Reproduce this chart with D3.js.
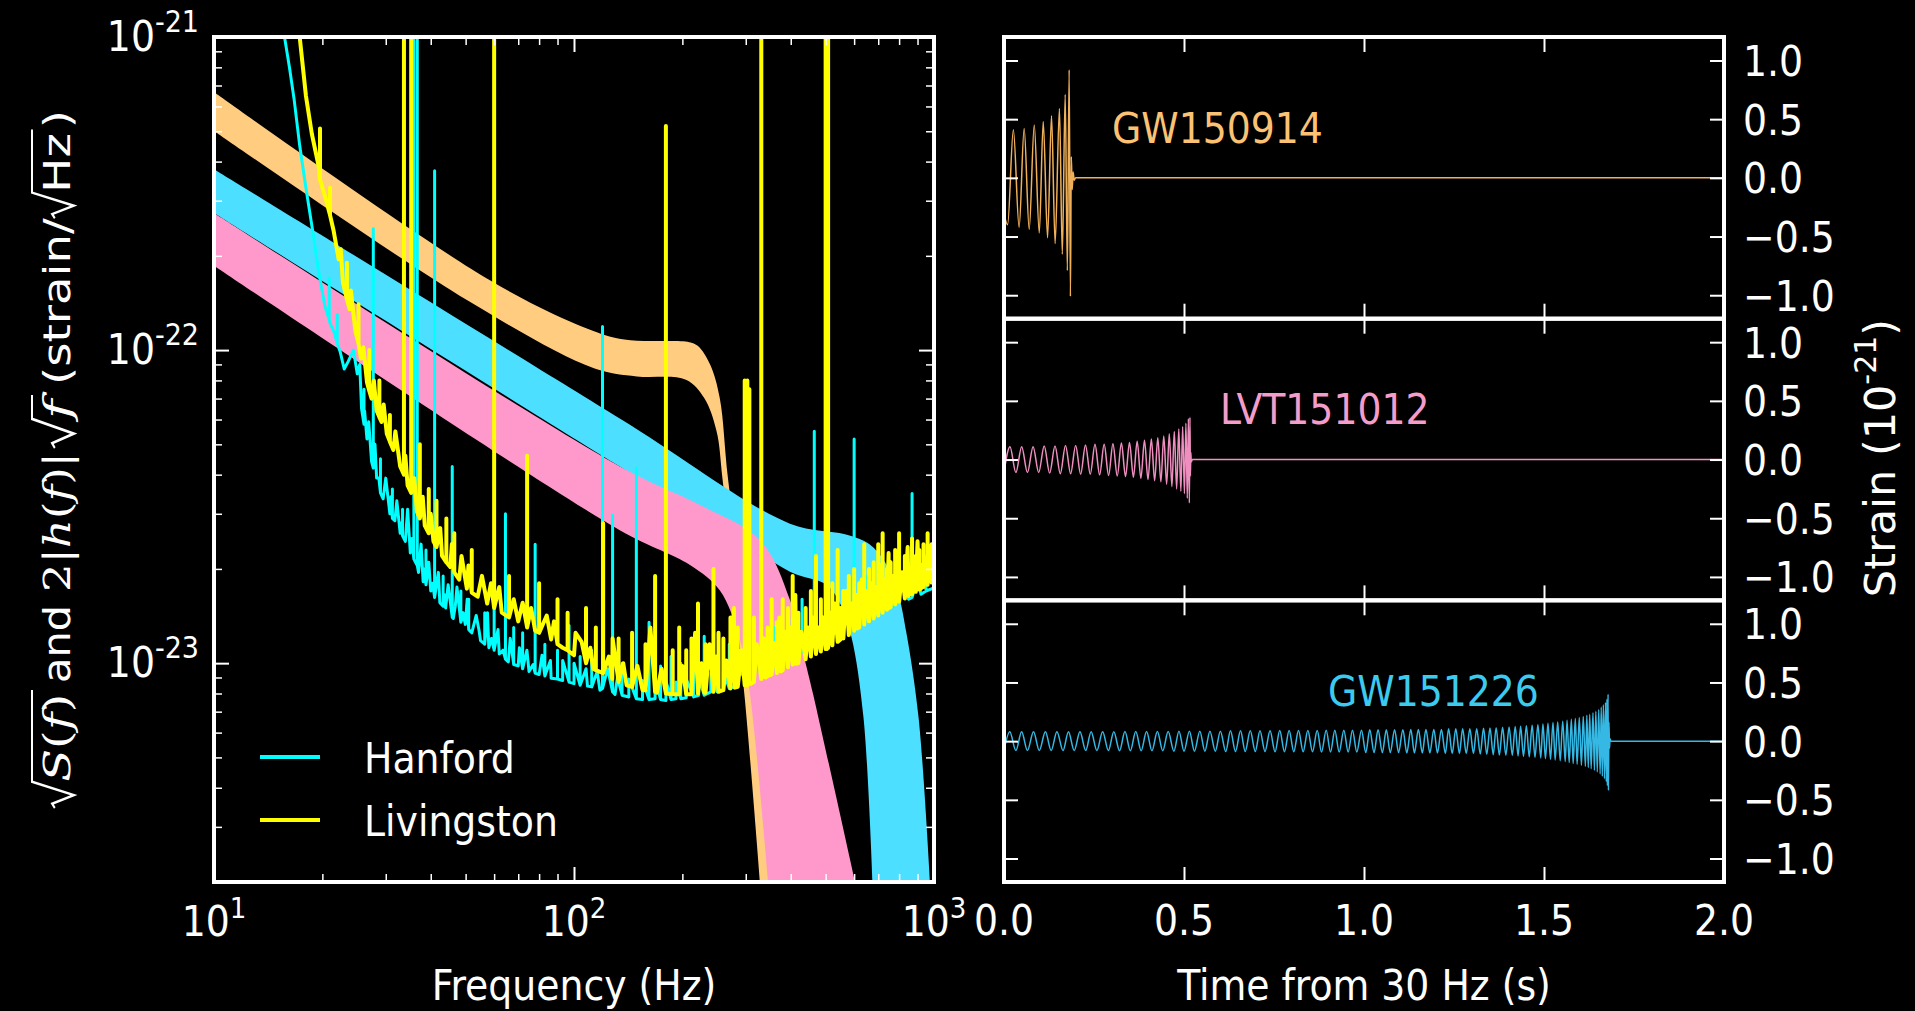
<!DOCTYPE html>
<html>
<head>
<meta charset="utf-8">
<script src="https://cdnjs.cloudflare.com/ajax/libs/d3/7.8.5/d3.min.js"></script>
<style>
  body { margin: 0; background: #000; }
  text { fill: #fff; font-family: "DejaVu Sans Condensed", "DejaVu Sans", sans-serif; }
</style>
</head>
<body>
<script>
// ---------------- data ----------------
// detector noise floors, [Hz, strain/rtHz]
var hanfordFloor = [
  [15.7,1.0e-21],[16.2,8.0e-22],[16.7,6.3e-22],[17.3,4.5e-22],[18.0,3.3e-22],[18.8,2.4e-22],[19.5,1.8e-22],
  [20.3,1.39e-22],[21.0,1.22e-22],[21.5,1.15e-22],[22.4,9.9e-23],[23.0,8.7e-23],[23.6,9.2e-23],[24.4,1.0e-22],
  [25.0,8.4e-23],[25.7,6.5e-23],[26.6,5.2e-23],[27.4,4.4e-23],[28.3,3.9e-23],[29.5,3.35e-23],[30.8,3.0e-23],
  [31.8,2.85e-23],[32.9,2.6e-23],[34.0,2.45e-23],[35.1,2.25e-23],[37.0,1.95e-23],[38.1,1.82e-23],[40.0,1.7e-23],
  [42.4,1.56e-23],[44.0,1.5e-23],[46.2,1.39e-23],[49.9,1.33e-23],[52,1.25e-23],[55,1.18e-23],[58,1.12e-23],
  [62,1.07e-23],[65.7,1.01e-23],[70,9.8e-24],[75,9.4e-24],[80,9.2e-24],[86.4,8.95e-24],[93,8.8e-24],[100,8.6e-24],
  [109,8.45e-24],[118,8.2e-24],[130,7.95e-24],[142,7.8e-24],[155,7.65e-24],[168,7.7e-24],[180,7.6e-24],
  [192,7.7e-24],[205,7.75e-24],[222,7.9e-24],[240,8.1e-24],[260,8.2e-24],[280,8.45e-24],[310,8.9e-24],
  [340,9.4e-24],[375,1.0e-23],[414,1.06e-23],[455,1.12e-23],[500,1.2e-23],[550,1.27e-23],[612,1.36e-23],
  [680,1.43e-23],[750,1.5e-23],[850,1.6e-23],[920,1.66e-23],[1000,1.74e-23]
];
// spectral lines, [Hz, floor, peak]
var hanfordLines = [
  [20.9,1.25e-22,1.7e-22],[22.0,1.05e-22,1.3e-22],[26.1,5.8e-23,7.5e-23],[27.7,4.2e-23,2.44e-22],[29.0,3.5e-23,4.5e-23],
  [31.3,2.9e-23,3.6e-23],[33.4,2.55e-23,3.1e-23],[35.9,2.15e-23,3e-21],[36.7,2.05e-23,3e-21],[38.8,1.78e-23,2.3e-23],
  [41.0,1.62e-23,3.74e-22],[43.3,1.52e-23,1.9e-23],[45.9,1.4e-23,4.25e-23],[48.5,1.35e-23,1.7e-23],[51,1.28e-23,1.6e-23],
  [56.5,1.15e-23,1.45e-23],[60,1.1e-23,2.0e-23],[64.5,1.03e-23,3.0e-23],[68,9.9e-24,1.3e-23],[72,9.6e-24,1.25e-23],
  [78,9.3e-24,2.4e-23],[83,9.1e-24,1.15e-23],[90,8.9e-24,1.1e-23],[96.9,8.7e-24,1.32e-23],[104,8.5e-24,1.05e-23],
  [112,8.4e-24,1.1e-23],[120,8.3e-24,1.19e-22],[128,8.1e-24,2.97e-23],[136,7.9e-24,1.0e-23],[149,7.7e-24,4.2e-23],
  [161.6,7.65e-24,1.35e-23],[174,7.65e-24,9.8e-24],[186,7.65e-24,1.05e-23],[198,7.7e-24,1.0e-23],[215,7.8e-24,1.1e-23],
  [230,7.9e-24,1.22e-23],[250,8.1e-24,1.05e-23],[270,8.3e-24,1.15e-23],[300,8.8e-24,1.5e-23],[331.9,9.2e-24,3e-21],
  [360,9.7e-24,1.3e-23],[395,1.03e-23,1.4e-23],[430,1.08e-23,1.6e-23],[465,1.14e-23,5.5e-23],[500,1.2e-23,3.0e-23],
  [540,1.26e-23,1.7e-23],[600,1.34e-23,5.2e-23],[650,1.4e-23,1.9e-23],[700,1.45e-23,2.0e-23],[780,1.53e-23,2.1e-23],
  [869,1.62e-23,3.48e-23],[950,1.7e-23,2.2e-23]
];
// jagged points on the floor, [Hz, value]
var hanfordTexture = [
  [25.4,9.0e-23],[26.2,6.4e-23],[26.9,5.9e-23],[28.0,5.0e-23],[28.7,3.9e-23],[30.0,3.9e-23],[31.0,3.4e-23],
  [32.2,3.3e-23],[33.0,2.8e-23],[34.5,3.1e-23],[35.5,2.5e-23],[37.6,2.4e-23],[38.4,2.0e-23],[39.5,2.1e-23],
  [40.5,1.8e-23],[42.0,1.95e-23],[43.8,1.65e-23],[44.7,1.78e-23],[46.8,1.52e-23],[47.3,1.75e-23],[49.2,1.45e-23],
  [50.5,1.6e-23],[53.5,1.42e-23],[54.5,1.27e-23],[57.5,1.45e-23],[59,1.2e-23],[61.5,1.28e-23],[63.5,1.1e-23],
  [66.5,1.2e-23],[70.5,1.12e-23],[74,1.1e-23],[77,9.9e-24],[81.5,1.06e-23],[86,1.02e-23],[93,1.02e-23],
  [100,1.0e-23],[108,9.6e-24],[116,9.4e-24],[124,9.6e-24],[132,9.0e-24],[142,8.9e-24],[155,8.8e-24],
  [168,8.9e-24],[180,8.8e-24],[192,8.7e-24],[205,8.9e-24],[222,9.0e-24],[240,9.3e-24],[260,9.4e-24],
  [285,9.8e-24],[315,1.03e-23],[345,1.08e-23],[380,1.16e-23],[415,1.22e-23],[450,1.3e-23],[520,1.4e-23],
  [570,1.48e-23],[630,1.58e-23],[720,1.68e-23],[820,1.78e-23],[900,1.86e-23]
];
var livingstonFloor = [
  [17.3,1.0e-21],[17.7,7.8e-22],[18.0,6.5e-22],[18.7,4.9e-22],[19.5,3.9e-22],[20.5,3.0e-22],[21.5,2.4e-22],
  [22.2,1.95e-22],[22.8,1.65e-22],[23.8,1.35e-22],[24.7,1.15e-22],[25.6,9.4e-23],[26.6,7.9e-23],[27.4,7.0e-23],
  [28.3,6.4e-23],[29.2,5.9e-23],[30.2,5.4e-23],[31.5,4.8e-23],[32.9,4.25e-23],[34.5,3.7e-23],[36.6,3.05e-23],
  [38.5,2.75e-23],[40.7,2.45e-23],[43,2.2e-23],[45.3,2.03e-23],[48,1.85e-23],[50.4,1.73e-23],[54,1.63e-23],
  [57.4,1.55e-23],[63,1.45e-23],[70,1.36e-23],[78,1.27e-23],[86.4,1.19e-23],[93,1.12e-23],[100,1.06e-23],
  [113,9.6e-24],[127.7,8.9e-24],[140,8.5e-24],[155,8.2e-24],[170,8.05e-24],[189.6,7.95e-24],[210,7.95e-24],
  [230,8.05e-24],[255,8.15e-24],[279.7,8.35e-24],[310,8.6e-24],[340,9.0e-24],[375,9.4e-24],[413.8,9.95e-24],
  [455,1.05e-23],[500,1.11e-23],[550,1.19e-23],[612,1.29e-23],[680,1.39e-23],[750,1.5e-23],[850,1.64e-23],
  [920,1.73e-23],[1000,1.83e-23]
];
var livingstonLines = [
  [19.7,3.5e-22,5.1e-22],[21.0,2.7e-22,3.3e-22],[23.4,1.45e-22,1.9e-22],[25.2,1.05e-22,1.4e-22],[27.0,7.4e-23,1.0e-22],
  [28.8,6.1e-23,8.0e-23],[30.8,5.1e-23,6.2e-23],[33.7,4.0e-23,3e-21],[35.3,3.5e-23,3e-21],[37.3,2.9e-23,5.0e-23],
  [39.5,2.6e-23,3.6e-23],[41.5,2.35e-23,3.3e-23],[44.2,2.1e-23,2.9e-23],[46.5,1.95e-23,2.6e-23],[52,1.68e-23,2.3e-23],
  [60,1.5e-23,3e-21],[66,1.4e-23,1.9e-23],[74.1,1.3e-23,4.6e-23],[80,1.25e-23,1.8e-23],[90,1.15e-23,1.6e-23],
  [96,1.1e-23,1.45e-23],[108,1.0e-23,1.5e-23],[115,9.5e-24,1.3e-23],[120.5,9.3e-24,2.8e-23],[133,8.7e-24,1.2e-23],
  [145,8.4e-24,1.25e-23],[158,8.2e-24,1.15e-23],[168,8.1e-24,1.9e-23],[180,8.0e-24,5.2e-22],[188,7.95e-24,1.1e-23],
  [196,7.95e-24,1.3e-23],[205,7.95e-24,1.1e-23],[212,7.95e-24,1.2e-23],[221,8.0e-24,1.55e-23],[232,8.05e-24,1.15e-23],
  [244,8.1e-24,2.0e-23],[252,8.1e-24,1.25e-23],[260,8.2e-24,1.2e-23],[272,8.3e-24,1.4e-23],[285,8.4e-24,1.3e-23],
  [298,8.5e-24,8.0e-23],[303,8.5e-24,8.0e-23],[307,8.6e-24,7.5e-23],[316,8.7e-24,1.4e-23],[331.3,8.9e-24,3e-21],
  [345,9.1e-24,1.3e-23],[354,9.2e-24,1.6e-23],[366,9.3e-24,1.35e-23],[380,9.5e-24,1.6e-23],[393,9.7e-24,1.5e-23],
  [405,9.9e-24,1.9e-23],[420,1.0e-23,1.45e-23],[440,1.03e-23,1.5e-23],[455,1.05e-23,1.7e-23],[470,1.07e-23,2.2e-23],
  [485,1.09e-23,1.6e-23],[500,1.11e-23,3e-21],[504,1.11e-23,3e-21],[508,1.12e-23,3e-21],[522,1.14e-23,1.8e-23],
  [540,1.17e-23,2.3e-23],[560,1.2e-23,1.7e-23],[580,1.23e-23,1.9e-23],[600,1.27e-23,2.0e-23],[620,1.3e-23,1.8e-23],
  [640,1.33e-23,2.4e-23],[660,1.36e-23,2.0e-23],[680,1.39e-23,2.1e-23],[700,1.42e-23,2.4e-23],[720,1.45e-23,2.6e-23],
  [740,1.48e-23,2.0e-23],[758,1.51e-23,2.1e-23],[780,1.54e-23,2.3e-23],[800,1.57e-23,2.6e-23],[830,1.61e-23,2.2e-23],
  [869,1.66e-23,2.5e-23],[890,1.69e-23,2.2e-23],[910,1.72e-23,2.3e-23],[935,1.75e-23,2.4e-23],[960,1.78e-23,2.6e-23],
  [985,1.81e-23,2.4e-23]
];
var livingstonTexture = [
  [22.5,2.1e-22],[24.0,1.55e-22],[26.0,1.02e-22],[27.8,8.0e-23],[29.6,6.7e-23],[31.9,5.5e-23],[34.0,4.6e-23],
  [36.0,3.9e-23],[38.0,3.4e-23],[40.0,3.0e-23],[42.5,2.7e-23],[45.8,2.4e-23],[48.7,2.2e-23],[50.9,2.05e-23],
  [55.5,1.9e-23],[58.8,1.8e-23],[62,1.75e-23],[68,1.6e-23],[72,1.56e-23],[76,1.5e-23],[84,1.42e-23],[88,1.36e-23],
  [101,1.25e-23],[105,1.17e-23],[111,1.12e-23],[125,1.05e-23],[128,1.2e-23],[137,1.0e-23],[150,9.8e-24],
  [163,1.3e-23],[175,9.6e-24],[200,9.8e-24],[217,1.25e-23],[226,1.0e-23],[238,1.15e-23],[248,1.05e-23],
  [265,1.02e-23],[278,1.5e-23],[292,1.1e-23],[322,1.15e-23],[337,1.2e-23],[360,1.16e-23],[372,1.4e-23],
  [386,1.26e-23],[398,1.3e-23],[412,1.65e-23],[428,1.26e-23],[447,1.3e-23],[462,1.4e-23],[478,1.3e-23],
  [492,1.4e-23],[515,1.45e-23],[530,1.55e-23],[550,1.5e-23],[570,1.7e-23],[590,1.55e-23],[610,1.65e-23],
  [630,1.85e-23],[650,1.7e-23],[670,1.8e-23],[690,1.75e-23],[710,2.05e-23],[730,1.85e-23],[748,2.25e-23],
  [768,1.9e-23],[790,2.05e-23],[815,1.95e-23],[845,2.35e-23],[855,1.95e-23],[880,2.05e-23],[900,2.45e-23],
  [922,2.05e-23],[948,2.15e-23],[972,2.25e-23],[995,2.15e-23]
];

// 2|h(f)|sqrt(f) bands, upper and lower edges [Hz, value]
var gw150914Upper = [[10,6.67e-22],[58.4,1.67e-22],[109,1.17e-22],[138,1.08e-22],[209,1.06e-22],[221,1.03e-22],
  [239,8.97e-23],[254,7.03e-23],[268,3.85e-23],[322,7.6e-24],[350,2.0e-24]];
var gw150914Lower = [[10,5.01e-22],[50.4,1.445e-22],[113.6,8.75e-23],[149.5,8.24e-23],[204.6,8.04e-23],[230,7.03e-23],
  [248.8,5.51e-23],[258.7,3.85e-23],[298.5,7.6e-24],[328.6,2.0e-24]];
var gw151226Upper = [[10,3.78e-22],[134,6.05e-23],[398,2.79e-23],[566,2.58e-23],[662,2.40e-23],[730,2.11e-23],
  [789,1.73e-23],[838,1.25e-23],[906,6.7e-24],[975,2.0e-24]];
var gw151226Lower = [[10,2.74e-22],[134,4.25e-23],[259,2.7e-23],[398,1.96e-23],[503,1.78e-23],[545,1.57e-23],
  [589,1.22e-23],[637,6.7e-24],[675,2.0e-24]];
var lvt151012Upper = [[10,2.74e-22],[134,4.25e-23],[224,3.2e-23],[329,2.47e-23],[398,1.59e-23],[438,1.02e-23],
  [461,8.0e-24],[604,2.0e-24]];
var lvt151012Lower = [[10,1.86e-22],[134,2.66e-23],[210,2.06e-23],[254,1.71e-23],[289,1.19e-23],[308,8.0e-24],
  [346,2.0e-24]];

// whitened waveforms, strain in 1e-21
var gw150914Wave = [[0,-0.30],[0.010,-0.40],[0.026,0.41],[0.042,-0.42],[0.056,0.42],[0.070,-0.44],[0.084,0.45],
  [0.098,-0.47],[0.109,0.48],[0.121,-0.51],[0.132,0.53],[0.142,-0.56],[0.154,0.59],[0.162,-0.65],[0.170,0.71],
  [0.176,-0.79],[0.181,0.92],[0.1845,-1.01],[0.187,0.18],[0.1895,-0.10],[0.192,0.05],[0.195,-0.02],[0.199,0],[2.0,0]];

var lvt151012Times = [
  0,.0166,.0330,.0491,.0651,.0808,.0964,.1117,.1268,.1417,
  .1564,.1708,.1851,.1990,.2129,.2263,.2397,.2527,.2657,.2782,
  .2906,.3026,.3146,.3261,.3376,.3486,.3595,.3699,.3803,.3902,
  .4000,.4093,.4185,.4272,.4358,.4438,.4518,.4591,.4664,.4730,
  .4796,.4855,.4913,.4963,.5012,.5053,.5092,.5121,.5149,.5166];
var lvt151012Amps = [
  .11,.11,.11,.11,.11,.11,.11,.115,.115,.115,
  .12,.12,.12,.12,.125,.125,.125,.13,.13,.13,
  .135,.135,.14,.14,.145,.145,.15,.155,.16,.165,
  .17,.175,.18,.185,.19,.2,.21,.22,.23,.24,
  .25,.26,.27,.28,.29,.31,.33,.35,.37,.36];
var lvt151012Tail = [[0.5178,-0.14],[0.5190,0.06],[0.5203,-0.02],[0.523,0],[2.0,0]];

var gw151226Times = [
  0,.016,.033,.049,.065,.082,.098,.115,.131,.147,
  .164,.179,.195,.211,.227,.242,.258,.274,.290,.305,
  .321,.336,.351,.366,.381,.396,.411,.426,.441,.456,
  .472,.486,.500,.515,.529,.544,.558,.572,.587,.601,
  .616,.629,.643,.657,.670,.684,.698,.711,.725,.739,
  .753,.766,.779,.792,.805,.818,.831,.844,.857,.870,
  .882,.895,.907,.919,.931,.944,.956,.968,.980,.993,
  1.005,1.016,1.028,1.039,1.051,1.062,1.073,1.085,1.096,1.108,
  1.119,1.130,1.140,1.151,1.162,1.172,1.183,1.194,1.204,1.215,
  1.226,1.235,1.245,1.255,1.265,1.274,1.284,1.294,1.304,1.313,
  1.323,1.332,1.341,1.350,1.359,1.367,1.376,1.385,1.394,1.403,
  1.412,1.420,1.428,1.435,1.443,1.451,1.459,1.467,1.475,1.483,
  1.491,1.497,1.504,1.511,1.518,1.525,1.531,1.538,1.545,1.552,
  1.559,1.564,1.570,1.576,1.581,1.587,1.592,1.598,1.604,1.609,
  1.615,1.619,1.623,1.627,1.631,1.636,1.640,1.644,1.648,1.652,
  1.656,1.659,1.662,1.665,1.668,1.671,1.673,1.675,1.676,1.678,
  1.679];
var gw151226Amps = [
  .08,.08,.08,.08,.08,.08,.08,.08,.08,.08,
  .08,.08,.08,.08,.08,.08,.08,.08,.08,.08,
  .082,.082,.082,.082,.082,.082,.082,.082,.082,.082,
  .085,.085,.085,.085,.085,.085,.085,.085,.085,.085,
  .088,.088,.088,.088,.088,.088,.088,.088,.088,.088,
  .09,.09,.09,.09,.09,.09,.09,.09,.09,.09,
  .093,.093,.093,.093,.093,.093,.093,.093,.093,.093,
  .097,.097,.097,.097,.097,.097,.097,.097,.097,.097,
  .10,.10,.10,.10,.10,.10,.10,.10,.10,.10,
  .105,.105,.105,.105,.105,.105,.105,.105,.105,.105,
  .11,.11,.112,.112,.115,.115,.118,.118,.12,.12,
  .122,.124,.126,.128,.13,.132,.134,.136,.138,.14,
  .143,.146,.149,.152,.155,.158,.161,.164,.167,.17,
  .174,.178,.182,.186,.19,.194,.198,.202,.206,.21,
  .215,.22,.225,.23,.236,.242,.248,.255,.262,.27,
  .28,.29,.30,.31,.32,.33,.345,.36,.38,.40,
  .42];
var gw151226Tail = [[1.6805,0.16],[1.682,-0.06],[1.6835,0.02],[1.686,0],[2.0,0]];

var eventNames = ["GW150914", "LVT151012", "GW151226"];
var freqTicks = [10, 100, 1000];
var freqExp = ["1", "2", "3"];
var freqMinor = [20,30,40,50,60,70,80,90,200,300,400,500,600,700,800,900];
var asdTicks = [1e-21, 1e-22, 1e-23];
var asdExp = ["-21", "-22", "-23"];
var asdMinor = [2e-24,3e-24,4e-24,5e-24,6e-24,7e-24,8e-24,9e-24,2e-23,3e-23,4e-23,5e-23,6e-23,7e-23,8e-23,9e-23,
  2e-22,3e-22,4e-22,5e-22,6e-22,7e-22,8e-22,9e-22];
var timeTicks = [0, 0.5, 1, 1.5, 2];
var timeLabels = ["0.0", "0.5", "1.0", "1.5", "2.0"];
var strainTicks = [-1, -0.5, 0, 0.5, 1];
var strainLabels = ["\u22121.0", "\u22120.5", "0.0", "0.5", "1.0"];

// ---------------- drawing ----------------
var W = 1915, H = 1011;
var svg = d3.select("body").append("svg").attr("width", W).attr("height", H);
svg.append("rect").attr("width", W).attr("height", H).attr("fill", "#000");

var bandColor = {GW150914: "#ffcc80", LVT151012: "#ff99cc", GW151226: "#4ddfff"};
var waveColor = {GW150914: "#f0b05a", LVT151012: "#ef8fc0", GW151226: "#35b9e4"};
var textColor = {GW150914: "#fbc274", LVT151012: "#f59dca", GW151226: "#3ccbee"};

var left = {x0: 214, x1: 934, y0: 37, y1: 882};
var xf = d3.scaleLog().domain([10, 1000]).range([left.x0, left.x1]);
var ya = d3.scaleLog().domain([2e-24, 1e-21]).range([left.y1, left.y0]);

svg.append("clipPath").attr("id", "clipL").append("rect")
  .attr("x", left.x0).attr("y", left.y0).attr("width", left.x1 - left.x0).attr("height", left.y1 - left.y0);
var gl = svg.append("g").attr("clip-path", "url(#clipL)");

var edge = d3.line().x(function(d) { return xf(d[0]); }).y(function(d) { return ya(d[1]); })
  .curve(d3.curveCatmullRom.alpha(0.5));
var plain = d3.line().x(function(d) { return xf(d[0]); }).y(function(d) { return ya(d[1]); });

function band(upper, lower, color) {
  var d = edge(upper) + "L" + edge(lower.slice().reverse()).slice(1) + "Z";
  gl.append("path").attr("d", d).attr("fill", color);
}
band(gw150914Upper, gw150914Lower, bandColor.GW150914);
band(gw151226Upper, gw151226Lower, bandColor.GW151226);
band(lvt151012Upper, lvt151012Lower, bandColor.LVT151012);

function asd(floor, texture, lines) {
  var pts = floor.concat(texture).map(function(d) { return [d[0], d[1]]; });
  lines.forEach(function(l) { pts.push([l[0], l[1]], [l[0], l[2]], [l[0], l[1]]); });
  pts.sort(function(a, b) { return a[0] - b[0]; });
  return plain(pts);
}
gl.append("path").attr("d", asd(hanfordFloor, hanfordTexture, hanfordLines))
  .attr("fill", "none").attr("stroke", "#00ffff").attr("stroke-width", 3).attr("stroke-linejoin", "round");
gl.append("path").attr("d", asd(livingstonFloor, livingstonTexture, livingstonLines))
  .attr("fill", "none").attr("stroke", "#ffff00").attr("stroke-width", 4).attr("stroke-linejoin", "round");

function tickGroup(axis, tx, ty, w) {
  var g = svg.append("g").attr("transform", "translate(" + tx + "," + ty + ")").attr("color", "#fff").call(axis);
  g.select(".domain").remove();
  g.selectAll("text").remove();
  g.selectAll("line").attr("stroke-width", w);
}
tickGroup(d3.axisBottom(xf).tickValues(freqTicks).tickSize(-15), 0, left.y1, 2);
tickGroup(d3.axisBottom(xf).tickValues(freqMinor).tickSize(-8), 0, left.y1, 1.5);
tickGroup(d3.axisTop(xf).tickValues(freqTicks).tickSize(-15), 0, left.y0, 2);
tickGroup(d3.axisTop(xf).tickValues(freqMinor).tickSize(-8), 0, left.y0, 1.5);
tickGroup(d3.axisLeft(ya).tickValues(asdTicks).tickSize(-15), left.x0, 0, 2);
tickGroup(d3.axisLeft(ya).tickValues(asdMinor).tickSize(-8), left.x0, 0, 1.5);
tickGroup(d3.axisRight(ya).tickValues(asdTicks).tickSize(-15), left.x1, 0, 2);
tickGroup(d3.axisRight(ya).tickValues(asdMinor).tickSize(-8), left.x1, 0, 1.5);

svg.append("rect").attr("x", left.x0).attr("y", left.y0).attr("width", left.x1 - left.x0).attr("height", left.y1 - left.y0)
  .attr("fill", "none").attr("stroke", "#fff").attr("stroke-width", 4);

function powLabel(x, y, exp, anchor, raise, supSize) {
  var t = svg.append("text").attr("x", x).attr("y", y).attr("text-anchor", anchor).attr("font-size", 42);
  t.append("tspan").text("10");
  t.append("tspan").attr("dy", -raise).attr("font-size", supSize).text(exp);
}
freqTicks.forEach(function(f, i) { powLabel(xf(f), 936, freqExp[i], "middle", 18, 29); });
asdTicks.forEach(function(v, i) { powLabel(199, ya(v) + 14, asdExp[i], "end", 19, 30); });

svg.append("text").attr("x", (left.x0 + left.x1) / 2).attr("y", 1000).attr("text-anchor", "middle")
  .attr("font-size", 42).text("Frequency (Hz)");

// legend
var legend = [["Hanford", "#00ffff", 757], ["Livingston", "#ffff00", 820]];
legend.forEach(function(l) {
  svg.append("line").attr("x1", 260).attr("x2", 320).attr("y1", l[2]).attr("y2", l[2])
    .attr("stroke", l[1]).attr("stroke-width", 4);
  svg.append("text").attr("x", 364).attr("y", l[2] + 16).attr("font-size", 42).text(l[0]);
});

// rotated y label of the left panel, built from pieces fitted along the axis
var fs = 38, rw = 0.55 * fs;
var ylab = svg.append("g").attr("transform", "translate(70,808) rotate(-90)");
function piece(g, x, parts) {
  var t = g.append("text").attr("x", x).attr("y", 0).attr("font-size", fs);
  parts.forEach(function(p) {
    var s = t.append("tspan").text(p[0]);
    if (p[1] === "sans") s.style("font-family", '"DejaVu Sans", sans-serif');
    else s.style("font-family", '"DejaVu Serif", serif');
    if (p[1] === "it") s.style("font-style", "italic");
  });
  return t.node().getComputedTextLength();
}
function radical(g, x, w) {
  var top = -1.0 * fs;
  g.append("path")
    .attr("d", "M" + x + "," + (-0.4 * fs) + "L" + (x + 0.09 * fs) + "," + (-0.47 * fs) +
      "L" + (x + 0.27 * fs) + "," + (0.1 * fs) + "L" + (x + rw) + "," + top + "L" + (x + rw + w + 3) + "," + top)
    .attr("fill", "none").attr("stroke", "#fff").attr("stroke-width", 2);
}
// screen spans (bottom, top) of each piece
var labelSpans = [[808, 690], [683, 605], [592, 452], [448, 391], [385, 110]];
var builders = [
  function(g) { radical(g, 0, piece(g, rw, [["S", "it"], ["(", "rm"], ["f", "it"], [")", "rm"]])); },
  function(g) { piece(g, 0, [["and", "sans"]]); },
  function(g) { piece(g, 0, [["2|", "rm"], ["h", "it"], ["(", "rm"], ["f", "it"], [")|", "rm"]]); },
  function(g) { radical(g, 0, piece(g, rw, [["f", "it"]])); },
  function(g) {
    var a = piece(g, 0, [["(strain/", "sans"]]);
    var b = piece(g, a + rw, [["Hz", "sans"]]);
    radical(g, a, b);
    piece(g, a + rw + b + 4, [[")", "sans"]]);
  }
];
builders.forEach(function(build, i) {
  var g = ylab.append("g");
  build(g);
  var bb = g.node().getBBox();
  var k = (labelSpans[i][0] - labelSpans[i][1]) / bb.width;
  var x0 = 808 - labelSpans[i][0];
  g.attr("transform", "translate(" + (x0 - bb.x * k) + ",0) scale(" + k + ",1)");
});

// ---------------- right panels ----------------
var xt = d3.scaleLinear().domain([0, 2]).range([1004, 1724]);
var panelTop = [37, 318.7, 600.3], panelH = 281.7;
var labelAt = [0.3, 0.6, 0.9];

function chirp(times, amps, tail) {
  return times.map(function(t, i) { return [t, (i % 2 === 0 ? -1 : 1) * amps[i]]; }).concat(tail);
}
var waves = [gw150914Wave, chirp(lvt151012Times, lvt151012Amps, lvt151012Tail), chirp(gw151226Times, gw151226Amps, gw151226Tail)];

eventNames.forEach(function(name, i) {
  var y = d3.scaleLinear().domain([-1.2, 1.2]).range([panelTop[i] + panelH, panelTop[i]]);
  var cid = "clipR" + i;
  svg.append("clipPath").attr("id", cid).append("rect")
    .attr("x", xt(0)).attr("y", panelTop[i]).attr("width", xt(2) - xt(0)).attr("height", panelH);
  var line = d3.line().x(function(d) { return xt(d[0]); }).y(function(d) { return y(d[1]); }).curve(d3.curveMonotoneX);
  svg.append("g").attr("clip-path", "url(#" + cid + ")").append("path")
    .attr("d", line(waves[i])).attr("fill", "none").attr("stroke", waveColor[name]).attr("stroke-width", 1.5);

  svg.append("text").attr("x", xt(labelAt[i])).attr("y", y(0.3)).attr("font-size", 42)
    .style("fill", textColor[name]).text(name);

  tickGroup(d3.axisBottom(xt).tickValues(timeTicks).tickSize(-15), 0, panelTop[i] + panelH, 2);
  tickGroup(d3.axisTop(xt).tickValues(timeTicks).tickSize(-15), 0, panelTop[i], 2);
  tickGroup(d3.axisLeft(y).tickValues(strainTicks).tickSize(-14), xt(0), 0, 2);
  tickGroup(d3.axisRight(y).tickValues(strainTicks).tickSize(-14), xt(2), 0, 2);

  svg.append("rect").attr("x", xt(0)).attr("y", panelTop[i]).attr("width", xt(2) - xt(0)).attr("height", panelH)
    .attr("fill", "none").attr("stroke", "#fff").attr("stroke-width", 4);

  strainTicks.forEach(function(v, k) {
    svg.append("text").attr("x", 1743).attr("y", y(v) + 15.5).attr("font-size", 42).text(strainLabels[k]);
  });
});

timeTicks.forEach(function(t, k) {
  svg.append("text").attr("x", xt(t)).attr("y", 935).attr("text-anchor", "middle").attr("font-size", 42).text(timeLabels[k]);
});
svg.append("text").attr("x", (xt(0) + xt(2)) / 2).attr("y", 1000).attr("text-anchor", "middle")
  .attr("font-size", 42).text("Time from 30 Hz (s)");

var slab = svg.append("text").attr("transform", "translate(1895,458) rotate(-90)").attr("text-anchor", "middle")
  .attr("font-size", 43).style("font-family", '"DejaVu Sans", sans-serif');
slab.append("tspan").text("Strain (10");
slab.append("tspan").attr("dy", -19).attr("font-size", 30).text("-21");
slab.append("tspan").attr("dy", 19).text(")");
</script>
</body>
</html>
